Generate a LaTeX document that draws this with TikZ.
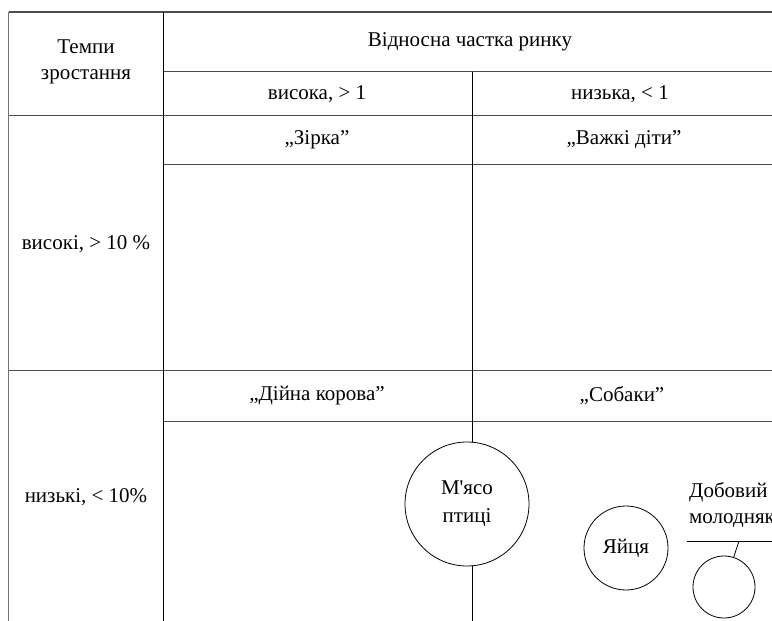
\documentclass[tikz,border=0pt]{standalone}
\usepackage{fontspec}
\setmainfont{Liberation Serif}
\begin{document}
\begin{tikzpicture}[
  x=1pt, y=-1pt,
  font=\fontsize{21}{26}\selectfont,
  hline/.style={line width=1.1pt, black!70},
  vline/.style={line width=0.9pt},
  edge/.style={line width=1.1pt, black!55},
  cell/.style={align=center, inner sep=0pt},
  bubble/.style={draw, circle, fill=white, line width=0.8pt, align=center, inner sep=0pt}
]
\useasboundingbox (0,0) rectangle (772,621);
\clip (0,0) rectangle (772,621);

% Table grid
\draw[edge] (8.5,12) -- (8.5,621);
\draw[hline] (8.5,12) -- (772,12);
\draw[hline] (163.5,71.5) -- (772,71.5);
\draw[hline] (8.5,115.5) -- (772,115.5);
\draw[hline] (163.5,164.5) -- (772,164.5);
\draw[hline] (8.5,370.5) -- (772,370.5);
\draw[hline] (163.5,421.5) -- (772,421.5);
\draw[vline] (163.5,12) -- (163.5,621);
\draw[vline] (472,71.5) -- (472,621);

% Header
\node[cell] (rate) at (86,62) {Темпи\\зростання};
\node[cell] (share) at (470,42) {Відносна частка ринку};
\node[cell] (sharehigh) at (317,94) {висока, > 1};
\node[cell] (sharelow) at (620,94) {низька, < 1};

% Rows
\node[cell] (ratehigh) at (86,244) {високі, > 10 \%};
\node[cell] (ratelow) at (86,497) {низькі, < 10\%};
\node[cell] (star) at (317,140) {„Зірка”};
\node[cell] (problem) at (624,140) {„Важкі діти”};
\node[cell] (cow) at (317,396) {„Дійна корова”};
\node[cell] (dogs) at (622,396) {„Собаки”};

% Products
\node[bubble, minimum size=124pt] (meat) at (467,504) {М\textquotesingle ясо\\[2pt]птиці};
\node[bubble, minimum size=84pt] (eggs) at (626,548) {Яйця};
\node[cell, anchor=north west, align=left] (chicks) at (689,482) {Добовий\\молодняк};
\coordinate (uleft) at (687,541);
\coordinate (uright) at (772,541);
\coordinate (utick) at (739,541);
\draw[line width=0.8pt] (uleft) -- (uright);
\node[bubble, minimum size=62pt] (chickscircle) at (724,587) {};
\draw[line width=0.8pt] (utick) -- (chickscircle);

\end{tikzpicture}
\end{document}
